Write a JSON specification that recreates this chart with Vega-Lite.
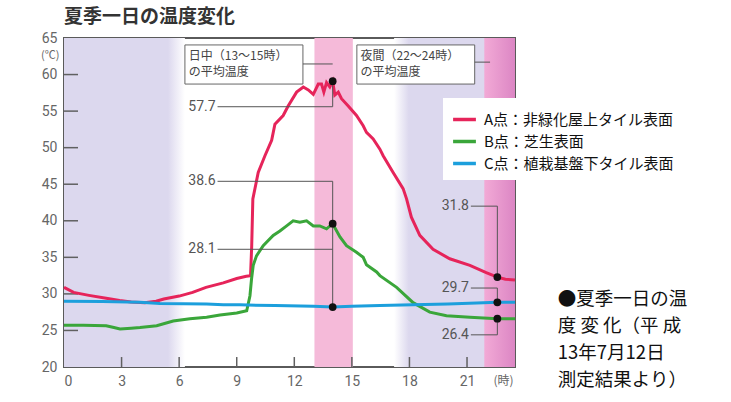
{
  "$schema": "https://vega.github.io/schema/vega-lite/v6.json",
  "autosize": "none",
  "width": 451,
  "height": 329,
  "padding": {"left": 64, "top": 38, "right": 216, "bottom": 35},
  "background": "#ffffff",
  "title": {"text": "夏季一日の温度変化", "anchor": "start", "frame": "group", "font": "Noto Sans CJK JP", "fontSize": 19, "fontWeight": "bold", "color": "#333333", "offset": 4},
  "config": {
    "view": {"stroke": "#5a5a5a", "strokeWidth": 2},
    "font": "Noto Sans CJK JP"
  },
  "datasets": {
    "series": [
      {"h": 0, "t": 30.9, "s": "A点：非緑化屋上タイル表面"},
      {"h": 0.5, "t": 30.2, "s": "A点：非緑化屋上タイル表面"},
      {"h": 1.3, "t": 29.8, "s": "A点：非緑化屋上タイル表面"},
      {"h": 2.2, "t": 29.4, "s": "A点：非緑化屋上タイル表面"},
      {"h": 2.9, "t": 29.1, "s": "A点：非緑化屋上タイル表面"},
      {"h": 3.5, "t": 28.9, "s": "A点：非緑化屋上タイル表面"},
      {"h": 4.2, "t": 28.8, "s": "A点：非緑化屋上タイル表面"},
      {"h": 4.8, "t": 29.0, "s": "A点：非緑化屋上タイル表面"},
      {"h": 5.2, "t": 29.3, "s": "A点：非緑化屋上タイル表面"},
      {"h": 6.0, "t": 29.7, "s": "A点：非緑化屋上タイル表面"},
      {"h": 6.7, "t": 30.2, "s": "A点：非緑化屋上タイル表面"},
      {"h": 7.4, "t": 30.9, "s": "A点：非緑化屋上タイル表面"},
      {"h": 8.3, "t": 31.5, "s": "A点：非緑化屋上タイル表面"},
      {"h": 9.0, "t": 32.1, "s": "A点：非緑化屋上タイル表面"},
      {"h": 9.5, "t": 32.4, "s": "A点：非緑化屋上タイル表面"},
      {"h": 9.72, "t": 32.5, "s": "A点：非緑化屋上タイル表面"},
      {"h": 9.78, "t": 36.5, "s": "A点：非緑化屋上タイル表面"},
      {"h": 9.84, "t": 43.0, "s": "A点：非緑化屋上タイル表面"},
      {"h": 10.12, "t": 46.6, "s": "A点：非緑化屋上タイル表面"},
      {"h": 10.47, "t": 48.9, "s": "A点：非緑化屋上タイル表面"},
      {"h": 10.82, "t": 51.0, "s": "A点：非緑化屋上タイル表面"},
      {"h": 10.99, "t": 53.2, "s": "A点：非緑化屋上タイル表面"},
      {"h": 11.42, "t": 54.4, "s": "A点：非緑化屋上タイル表面"},
      {"h": 11.68, "t": 55.7, "s": "A点：非緑化屋上タイル表面"},
      {"h": 12.12, "t": 57.6, "s": "A点：非緑化屋上タイル表面"},
      {"h": 12.47, "t": 58.3, "s": "A点：非緑化屋上タイル表面"},
      {"h": 12.73, "t": 57.9, "s": "A点：非緑化屋上タイル表面"},
      {"h": 12.99, "t": 57.3, "s": "A点：非緑化屋上タイル表面"},
      {"h": 13.25, "t": 58.7, "s": "A点：非緑化屋上タイル表面"},
      {"h": 13.42, "t": 58.7, "s": "A点：非緑化屋上タイル表面"},
      {"h": 13.54, "t": 57.6, "s": "A点：非緑化屋上タイル表面"},
      {"h": 13.68, "t": 58.9, "s": "A点：非緑化屋上タイル表面"},
      {"h": 13.85, "t": 58.3, "s": "A点：非緑化屋上タイル表面"},
      {"h": 14.0, "t": 59.1, "s": "A点：非緑化屋上タイル表面"},
      {"h": 14.11, "t": 57.2, "s": "A点：非緑化屋上タイル表面"},
      {"h": 14.29, "t": 57.6, "s": "A点：非緑化屋上タイル表面"},
      {"h": 14.46, "t": 56.7, "s": "A点：非緑化屋上タイル表面"},
      {"h": 14.81, "t": 55.7, "s": "A点：非緑化屋上タイル表面"},
      {"h": 15.24, "t": 54.4, "s": "A点：非緑化屋上タイル表面"},
      {"h": 15.59, "t": 53.0, "s": "A点：非緑化屋上タイル表面"},
      {"h": 15.76, "t": 52.1, "s": "A点：非緑化屋上タイル表面"},
      {"h": 16.11, "t": 51.2, "s": "A点：非緑化屋上タイル表面"},
      {"h": 16.46, "t": 49.8, "s": "A点：非緑化屋上タイル表面"},
      {"h": 16.63, "t": 48.9, "s": "A点：非緑化屋上タイル表面"},
      {"h": 17.15, "t": 46.6, "s": "A点：非緑化屋上タイル表面"},
      {"h": 17.67, "t": 44.4, "s": "A点：非緑化屋上タイル表面"},
      {"h": 17.85, "t": 43.0, "s": "A点：非緑化屋上タイル表面"},
      {"h": 18.1, "t": 40.5, "s": "A点：非緑化屋上タイル表面"},
      {"h": 18.54, "t": 38.0, "s": "A点：非緑化屋上タイル表面"},
      {"h": 19.23, "t": 36.1, "s": "A点：非緑化屋上タイル表面"},
      {"h": 20.1, "t": 34.8, "s": "A点：非緑化屋上タイル表面"},
      {"h": 21.15, "t": 33.9, "s": "A点：非緑化屋上タイル表面"},
      {"h": 22.0, "t": 32.9, "s": "A点：非緑化屋上タイル表面"},
      {"h": 22.58, "t": 32.3, "s": "A点：非緑化屋上タイル表面"},
      {"h": 23.0, "t": 32.0, "s": "A点：非緑化屋上タイル表面"},
      {"h": 23.5, "t": 31.9, "s": "A点：非緑化屋上タイル表面"},
      {"h": 0, "t": 25.7, "s": "B点：芝生表面"},
      {"h": 1.0, "t": 25.7, "s": "B点：芝生表面"},
      {"h": 2.2, "t": 25.65, "s": "B点：芝生表面"},
      {"h": 2.6, "t": 25.4, "s": "B点：芝生表面"},
      {"h": 2.92, "t": 25.2, "s": "B点：芝生表面"},
      {"h": 3.5, "t": 25.3, "s": "B点：芝生表面"},
      {"h": 3.96, "t": 25.4, "s": "B点：芝生表面"},
      {"h": 4.83, "t": 25.65, "s": "B点：芝生表面"},
      {"h": 5.69, "t": 26.3, "s": "B点：芝生表面"},
      {"h": 6.56, "t": 26.6, "s": "B点：芝生表面"},
      {"h": 7.43, "t": 26.8, "s": "B点：芝生表面"},
      {"h": 8.13, "t": 27.1, "s": "B点：芝生表面"},
      {"h": 9.0, "t": 27.4, "s": "B点：芝生表面"},
      {"h": 9.52, "t": 27.7, "s": "B点：芝生表面"},
      {"h": 9.69, "t": 29.75, "s": "B点：芝生表面"},
      {"h": 9.77, "t": 32.0, "s": "B点：芝生表面"},
      {"h": 9.86, "t": 33.9, "s": "B点：芝生表面"},
      {"h": 10.03, "t": 35.2, "s": "B点：芝生表面"},
      {"h": 10.38, "t": 36.6, "s": "B点：芝生表面"},
      {"h": 10.9, "t": 38.0, "s": "B点：芝生表面"},
      {"h": 11.25, "t": 38.6, "s": "B点：芝生表面"},
      {"h": 11.6, "t": 39.3, "s": "B点：芝生表面"},
      {"h": 11.94, "t": 40.0, "s": "B点：芝生表面"},
      {"h": 12.29, "t": 39.8, "s": "B点：芝生表面"},
      {"h": 12.64, "t": 40.0, "s": "B点：芝生表面"},
      {"h": 12.99, "t": 39.3, "s": "B点：芝生表面"},
      {"h": 13.33, "t": 39.3, "s": "B点：芝生表面"},
      {"h": 13.68, "t": 38.9, "s": "B点：芝生表面"},
      {"h": 14.0, "t": 39.6, "s": "B点：芝生表面"},
      {"h": 14.38, "t": 37.8, "s": "B点：芝生表面"},
      {"h": 14.72, "t": 36.6, "s": "B点：芝生表面"},
      {"h": 15.24, "t": 35.7, "s": "B点：芝生表面"},
      {"h": 15.59, "t": 35.0, "s": "B点：芝生表面"},
      {"h": 15.76, "t": 34.0, "s": "B点：芝生表面"},
      {"h": 16.29, "t": 33.0, "s": "B点：芝生表面"},
      {"h": 16.46, "t": 32.5, "s": "B点：芝生表面"},
      {"h": 17.33, "t": 30.9, "s": "B点：芝生表面"},
      {"h": 18.19, "t": 28.8, "s": "B点：芝生表面"},
      {"h": 19.06, "t": 27.5, "s": "B点：芝生表面"},
      {"h": 19.93, "t": 27.0, "s": "B点：芝生表面"},
      {"h": 21.15, "t": 26.8, "s": "B点：芝生表面"},
      {"h": 22.58, "t": 26.6, "s": "B点：芝生表面"},
      {"h": 23.5, "t": 26.6, "s": "B点：芝生表面"},
      {"h": 0, "t": 29.0, "s": "C点：植栽基盤下タイル表面"},
      {"h": 2.0, "t": 28.95, "s": "C点：植栽基盤下タイル表面"},
      {"h": 3.96, "t": 28.85, "s": "C点：植栽基盤下タイル表面"},
      {"h": 5.0, "t": 28.7, "s": "C点：植栽基盤下タイル表面"},
      {"h": 7.43, "t": 28.6, "s": "C点：植栽基盤下タイル表面"},
      {"h": 8.3, "t": 28.5, "s": "C点：植栽基盤下タイル表面"},
      {"h": 9.17, "t": 28.5, "s": "C点：植栽基盤下タイル表面"},
      {"h": 11.0, "t": 28.4, "s": "C点：植栽基盤下タイル表面"},
      {"h": 13.0, "t": 28.3, "s": "C点：植栽基盤下タイル表面"},
      {"h": 14.0, "t": 28.2, "s": "C点：植栽基盤下タイル表面"},
      {"h": 15.0, "t": 28.3, "s": "C点：植栽基盤下タイル表面"},
      {"h": 16.46, "t": 28.4, "s": "C点：植栽基盤下タイル表面"},
      {"h": 18.19, "t": 28.5, "s": "C点：植栽基盤下タイル表面"},
      {"h": 20.0, "t": 28.6, "s": "C点：植栽基盤下タイル表面"},
      {"h": 21.5, "t": 28.75, "s": "C点：植栽基盤下タイル表面"},
      {"h": 22.58, "t": 28.85, "s": "C点：植栽基盤下タイル表面"},
      {"h": 23.5, "t": 28.85, "s": "C点：植栽基盤下タイル表面"}
    ],
    "leaders": [
      {"x": 8.0, "x2": 14.0, "y": 55.6, "y2": 55.6},
      {"x": 14.0, "x2": 14.0, "y": 55.6, "y2": 59.1},
      {"x": 8.0, "x2": 14.0, "y": 45.4, "y2": 45.4},
      {"x": 14.0, "x2": 14.0, "y": 45.4, "y2": 28.2},
      {"x": 8.0, "x2": 14.0, "y": 36.1, "y2": 36.1},
      {"x": 12.45, "x2": 14.0, "y": 61.45, "y2": 61.45},
      {"x": 21.2, "x2": 22.58, "y": 42.0, "y2": 42.0},
      {"x": 22.58, "x2": 22.58, "y": 42.0, "y2": 32.3},
      {"x": 21.2, "x2": 22.58, "y": 30.8, "y2": 30.8},
      {"x": 22.58, "x2": 22.58, "y": 30.8, "y2": 28.85},
      {"x": 21.2, "x2": 22.58, "y": 24.4, "y2": 24.4},
      {"x": 22.58, "x2": 22.58, "y": 24.4, "y2": 26.6},
      {"x": 21.4, "x2": 22.2, "y": 61.7, "y2": 61.7}
    ],
    "dots": [
      {"h": 14.0, "t": 59.1},
      {"h": 14.0, "t": 39.6},
      {"h": 14.0, "t": 28.2},
      {"h": 22.58, "t": 32.3},
      {"h": 22.58, "t": 28.85},
      {"h": 22.58, "t": 26.6}
    ],
    "values": [
      {"h": 7.9, "t": 55.6, "label": "57.7"},
      {"h": 7.9, "t": 45.4, "label": "38.6"},
      {"h": 7.9, "t": 36.1, "label": "28.1"},
      {"h": 21.1, "t": 42.0, "label": "31.8"},
      {"h": 21.1, "t": 30.8, "label": "29.7"},
      {"h": 21.1, "t": 24.4, "label": "26.4"}
    ],
    "boxes": [
      {"x": 6.3, "x2": 12.45, "y": 64.05, "y2": 58.7},
      {"x": 15.26, "x2": 21.4, "y": 64.05, "y2": 58.7}
    ],
    "boxtext": [
      {"h": 6.5, "t": 62.6, "label": "日中（13～15時）"},
      {"h": 6.5, "t": 60.3, "label": "の平均温度"},
      {"h": 15.45, "t": 62.6, "label": "夜間（22～24時）"},
      {"h": 15.45, "t": 60.3, "label": "の平均温度"}
    ],
    "xticks": [{"v": 3}, {"v": 6}, {"v": 9}, {"v": 12}, {"v": 15}, {"v": 18}, {"v": 21}],
    "yticks": [{"v": 25}, {"v": 30}, {"v": 35}, {"v": 40}, {"v": 45}, {"v": 50}, {"v": 55}, {"v": 60}],
    "caption": [
      {"h": 25.73, "t": 30.5, "label": "●夏季一日の温\n度 変 化（平 成\n13年7月12日\n測定結果より）"}
    ]
  },
  "encoding": {
    "x": {"type": "quantitative", "scale": {"domain": [0, 23.5], "nice": false, "zero": false}, "axis": {"values": [0, 3, 6, 9, 12, 15, 18, 21], "labelOverlap": false, "zindex": 1, "ticks": false, "domain": false, "labelColor": "#666666", "labelFontSize": 14, "labelFont": "Roboto", "labelPadding": 7, "grid": false, "title": "(時)", "titleFontSize": 12, "titleColor": "#666666", "titleFontWeight": "normal", "titleX": 439, "titleY": 13, "titleBaseline": "middle", "titleAlign": "center"}},
    "y": {"type": "quantitative", "scale": {"domain": [20, 65], "nice": false, "zero": false}, "axis": {"values": [20, 25, 30, 35, 40, 45, 50, 55, 60, 65], "labelOverlap": false, "zindex": 1, "ticks": false, "domain": false, "labelColor": "#666666", "labelFontSize": 14, "labelFont": "Roboto", "labelPadding": 7, "grid": false, "title": "(℃)", "titleAngle": 0, "titleFontSize": 11, "titleColor": "#666666", "titleFontWeight": "normal", "titleAlign": "right", "titleBaseline": "middle", "titleX": -5, "titleY": 17}}
  },
  "layer": [
    {
      "data": {"values": [{"a": 0, "b": 6.3}]},
      "mark": {"type": "rect", "fill": {"gradient": "linear", "x1": 0, "x2": 1, "y1": 0, "y2": 0, "stops": [{"offset": 0, "color": "#dcd8ee"}, {"offset": 0.86, "color": "#dcd8ee"}, {"offset": 1, "color": "#ffffff"}]}},
      "encoding": {"x": {"field": "a"}, "x2": {"field": "b"}, "y": {"datum": 20}, "y2": {"datum": 65}}
    },
    {
      "data": {"values": [{"a": 17.2, "b": 22.0}]},
      "mark": {"type": "rect", "fill": {"gradient": "linear", "x1": 0, "x2": 1, "y1": 0, "y2": 0, "stops": [{"offset": 0, "color": "#ffffff"}, {"offset": 0.16, "color": "#dcd8ee"}, {"offset": 1, "color": "#dcd8ee"}]}},
      "encoding": {"x": {"field": "a"}, "x2": {"field": "b"}, "y": {"datum": 20}, "y2": {"datum": 65}}
    },
    {
      "data": {"values": [{"a": 13.05, "b": 15.05}]},
      "mark": {"type": "rect", "fill": "#f5bad9"},
      "encoding": {"x": {"field": "a"}, "x2": {"field": "b"}, "y": {"datum": 20}, "y2": {"datum": 65}}
    },
    {
      "data": {"values": [{"a": 21.9, "b": 23.5}]},
      "mark": {"type": "rect", "fill": {"gradient": "linear", "x1": 0, "x2": 1, "y1": 0, "y2": 0, "stops": [{"offset": 0, "color": "#f2aad6"}, {"offset": 1, "color": "#dc86c4"}]}},
      "encoding": {"x": {"field": "a"}, "x2": {"field": "b"}, "y": {"datum": 20}, "y2": {"datum": 65}}
    },
    {
      "data": {"name": "xticks"},
      "mark": {"type": "tick", "orient": "vertical", "color": "#606060", "thickness": 1.5, "size": 10, "opacity": 1},
      "encoding": {"x": {"field": "v", "type": "quantitative"}, "y": {"datum": 20.68, "type": "quantitative"}}
    },
    {
      "data": {"name": "yticks"},
      "mark": {"type": "tick", "orient": "horizontal", "color": "#606060", "thickness": 1.5, "size": 14, "opacity": 1},
      "encoding": {"y": {"field": "v", "type": "quantitative"}, "x": {"datum": 0.365, "type": "quantitative"}}
    },
    {
      "data": {"name": "boxes"},
      "mark": {"type": "rect", "fill": "#ffffff", "stroke": "#666666", "strokeWidth": 1},
      "encoding": {"x": {"field": "x"}, "x2": {"field": "x2"}, "y": {"field": "y"}, "y2": {"field": "y2"}}
    },
    {
      "data": {"name": "boxtext"},
      "mark": {"type": "text", "align": "left", "baseline": "middle", "fontSize": 12, "color": "#444444", "font": "Noto Sans CJK JP"},
      "encoding": {"x": {"field": "h"}, "y": {"field": "t"}, "text": {"field": "label"}}
    },
    {
      "data": {"name": "series"},
      "mark": {"type": "line", "strokeWidth": 3, "interpolate": "linear"},
      "encoding": {
        "x": {"field": "h"},
        "y": {"field": "t"},
        "color": {"field": "s", "type": "nominal", "sort": null, "scale": {"domain": ["A点：非緑化屋上タイル表面", "B点：芝生表面", "C点：植栽基盤下タイル表面"], "range": ["#e6245a", "#3aa63a", "#1c9fdc"]}, "legend": {"title": null, "orient": "none", "legendX": 379, "legendY": 60, "fillColor": "#ffffff", "padding": 8, "symbolType": "stroke", "symbolStrokeWidth": 3.5, "symbolSize": 520, "labelFontSize": 15, "labelColor": "#111111", "labelFont": "Noto Sans CJK JP", "labelLimit": 300, "labelOffset": 6, "rowPadding": 0}}
      }
    },
    {
      "data": {"name": "leaders"},
      "mark": {"type": "rule", "color": "#555555", "strokeWidth": 1},
      "encoding": {"x": {"field": "x"}, "x2": {"field": "x2"}, "y": {"field": "y"}, "y2": {"field": "y2"}}
    },
    {
      "data": {"name": "dots"},
      "mark": {"type": "point", "filled": true, "color": "#111111", "size": 60, "opacity": 1},
      "encoding": {"x": {"field": "h"}, "y": {"field": "t"}}
    },
    {
      "data": {"name": "values"},
      "mark": {"type": "text", "align": "right", "baseline": "middle", "fontSize": 14, "color": "#555555", "font": "Roboto"},
      "encoding": {"x": {"field": "h"}, "y": {"field": "t"}, "text": {"field": "label"}}
    },
    {
      "data": {"name": "caption"},
      "mark": {"type": "text", "align": "left", "baseline": "top", "fontSize": 18.5, "lineHeight": 27, "lineBreak": "\n", "color": "#111111", "font": "Noto Sans CJK JP", "clip": false},
      "encoding": {"x": {"field": "h"}, "y": {"field": "t"}, "text": {"field": "label"}}
    }
  ]
}
